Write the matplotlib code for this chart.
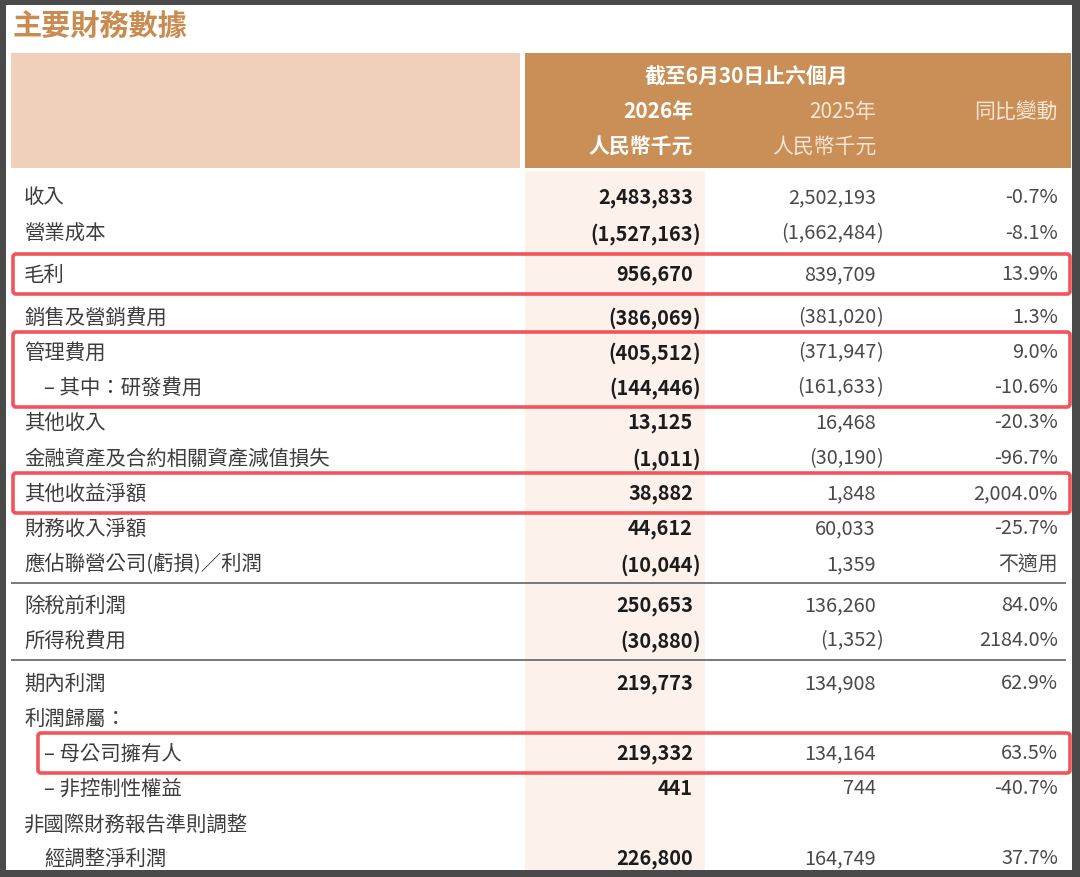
"""
主要財務數據 table recreated with matplotlib.
"""

import matplotlib.pyplot as plt
from matplotlib.patches import Rectangle, FancyBboxPatch

plt.rcParams['font.family'] = ['Noto Sans CJK TC', 'DejaVu Sans']

# --- data -------------------------------------------------------------
title = '主要財務數據'
period_header = '截至6月30日止六個月'
col_years = ['2026年', '2025年', '同比變動']
col_units = ['人民幣千元', '人民幣千元', '']

labels = ['收入', '營業成本', '毛利', '銷售及營銷費用', '管理費用',
          '– 其中：研發費用', '其他收入', '金融資產及合約相關資產減值損失',
          '其他收益淨額', '財務收入淨額', '應佔聯營公司(虧損)／利潤',
          '除稅前利潤', '所得稅費用', '期內利潤', '利潤歸屬：',
          '– 母公司擁有人', '– 非控制性權益', '非國際財務報告準則調整',
          '經調整淨利潤']
indent = [0, 0, 0, 0, 0, 1, 0, 0, 0, 0, 0, 0, 0, 0, 0, 1, 1, 0, 1]

value_2026 = [2483833, -1527163, 956670, -386069, -405512, -144446, 13125,
              -1011, 38882, 44612, -10044, 250653, -30880, 219773, None,
              219332, 441, None, 226800]
value_2025 = [2502193, -1662484, 839709, -381020, -371947, -161633, 16468,
              -30190, 1848, 60033, 1359, 136260, -1352, 134908, None,
              134164, 744, None, 164749]
yoy_change = ['-0.7%', '-8.1%', '13.9%', '1.3%', '9.0%', '-10.6%', '-20.3%',
              '-96.7%', '2,004.0%', '-25.7%', '不適用', '84.0%', '2184.0%',
              '62.9%', '', '63.5%', '-40.7%', '', '37.7%']

# rows highlighted with red boxes (first row, last row)
highlights = [(2, 2), (4, 5), (8, 8), (15, 15)]
# divider lines drawn after these rows
dividers_after = [10, 12]

# --- layout (pixel coordinates) ---------------------------------------
W, H = 1080, 878
row_y = [198, 234, 275, 318, 353, 388, 423, 459, 494, 529, 565,
         606, 641, 684, 719, 754, 789, 825, 859]
label_x = [24, 44]
col_right = [693, 876, 1058]

TAN = '#c98f56'
PEACH = '#f1d0b9'
PINK = '#fdf1ec'
RED = '#f2545a'
TEXT = '#3d3d3d'
NUM = '#4a4a4a'
BOLD = '#1c1c1c'
FS_LABEL = 14.7
FS_NUM = 14.3
FS_HEAD = 15


def fmt(v):
    if v is None:
        return ''
    return f'{abs(v):,}'


fig = plt.figure(figsize=(W / 100, H / 100), dpi=100)
ax = fig.add_axes([0, 0, 1, 1])
ax.set_xlim(0, W)
ax.set_ylim(H, 0)
ax.axis('off')

# outer dark frame
ax.add_patch(Rectangle((0, 0), W, H, facecolor='#4a4a4a', edgecolor='none'))
ax.add_patch(Rectangle((6, 6), 1066, 865, facecolor='white', edgecolor='none'))

# title
ax.text(12, 27, title, fontsize=21, fontweight='bold', color='#c98b50',
        ha='left', va='center')

# header boxes
ax.add_patch(Rectangle((11, 54), 509, 115, facecolor=PEACH, edgecolor='none'))
ax.add_patch(Rectangle((525, 54), 546, 115, facecolor=TAN, edgecolor='none'))
# highlighted current-year column
ax.add_patch(Rectangle((525, 172), 180, 699, facecolor=PINK, edgecolor='none'))

ax.text(746, 76, period_header, fontsize=FS_HEAD, fontweight='bold',
        color='white', ha='center', va='center')
for i, (yr, unit) in enumerate(zip(col_years, col_units)):
    bold = i == 0
    color = 'white' if bold else '#f7e6d8'
    weight = 'bold' if bold else 'normal'
    ax.text(col_right[i], 112, yr, fontsize=FS_HEAD, fontweight=weight,
            color=color, ha='right', va='center')
    if unit:
        ax.text(col_right[i], 147, unit, fontsize=FS_HEAD, fontweight=weight,
                color=color, ha='right', va='center')


def put_number(x, y, v, bold):
    if v is None:
        return
    weight = 'bold' if bold else 'normal'
    color = BOLD if bold else NUM
    if v < 0:
        ax.text(x, y, '(' + fmt(v), fontsize=FS_NUM, fontweight=weight,
                color=color, ha='right', va='center')
        ax.text(x, y, ')', fontsize=FS_NUM, fontweight=weight, color=color,
                ha='left', va='center')
    else:
        ax.text(x, y, fmt(v), fontsize=FS_NUM, fontweight=weight, color=color,
                ha='right', va='center')


for i, lab in enumerate(labels):
    y = row_y[i]
    ax.text(label_x[indent[i]], y, lab, fontsize=FS_LABEL, color=TEXT,
            ha='left', va='center')
    put_number(col_right[0], y, value_2026[i], True)
    put_number(col_right[1], y, value_2025[i], False)
    if yoy_change[i]:
        ax.text(col_right[2], y, yoy_change[i], fontsize=FS_NUM, color=NUM,
                ha='right', va='center')

# divider lines
for r in dividers_after:
    yl = (row_y[r] + row_y[r + 1]) / 2 - 2
    ax.plot([11, 1066], [yl, yl], color='#6e6e6e', lw=1.3,
            solid_capstyle='butt')

# red highlight boxes
for r0, r1 in highlights:
    top = row_y[r0] - 20
    bot = row_y[r1] + 20
    x0 = 38 if r0 == 15 else 13
    ax.add_patch(FancyBboxPatch((x0, top), 1070 - x0, bot - top,
                                boxstyle='round,pad=0,rounding_size=3',
                                facecolor='none', edgecolor=RED, lw=2.6))

fig.savefig('out.png', dpi=100)
